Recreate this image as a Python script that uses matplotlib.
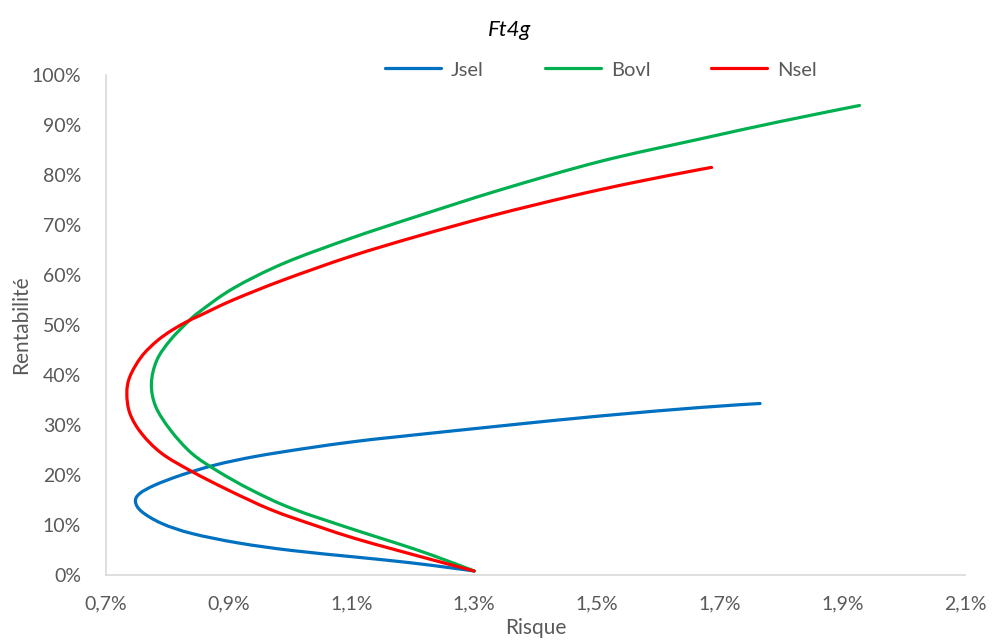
import matplotlib
matplotlib.use("Agg")
import numpy as np
import matplotlib.pyplot as plt
from matplotlib.path import Path
from matplotlib.patches import PathPatch
from matplotlib.lines import Line2D
from matplotlib.ticker import FuncFormatter, FixedLocator

plt.rcParams['font.family'] = ['Lato', 'DejaVu Sans']

# Efficient frontiers: risk (%) vs return (%), ordered from the lowest-return
# portfolio round the minimum-variance point to the highest-return one
jsel_risk = [1.300, 1.233, 1.170, 1.106, 1.003, 0.916, 0.840, 0.791, 0.758, 0.748,
             0.755, 0.780, 0.823, 0.878, 0.943, 1.024, 1.106, 1.179, 1.342, 1.505,
             1.668, 1.766]
jsel_ret = [0.8, 1.9, 2.8, 3.6, 4.9, 6.4, 8.3, 10.3, 12.7, 14.7,
            16.3, 18.0, 20.0, 22.0, 23.7, 25.3, 26.7, 27.7, 29.8, 31.8,
            33.5, 34.3]

bovl_risk = [1.300, 1.233, 1.170, 1.106, 1.003, 0.937, 0.883, 0.840, 0.805, 0.781,
             0.774, 0.783, 0.805, 0.834, 0.853, 0.907, 0.989, 1.098, 1.206, 1.342,
             1.505, 1.668, 1.799, 1.928]
bovl_ret = [0.8, 3.9, 6.5, 9.0, 13.3, 17.0, 20.7, 24.3, 29.0, 33.7,
            38.3, 43.0, 47.0, 50.7, 52.7, 57.3, 62.3, 67.3, 71.7, 77.0,
            82.7, 87.2, 90.7, 93.9]

nsel_risk = [1.300, 1.233, 1.170, 1.106, 1.046, 0.970, 0.899, 0.840, 0.791, 0.758,
             0.739, 0.734, 0.739, 0.758, 0.783, 0.808, 0.834, 0.853, 0.907, 0.989,
             1.098, 1.206, 1.330, 1.456, 1.560, 1.668, 1.687]
nsel_ret = [0.8, 3.0, 5.1, 7.3, 9.7, 13.0, 17.0, 20.7, 24.3, 28.3,
            32.3, 36.3, 39.7, 43.7, 46.8, 49.0, 50.8, 51.9, 55.0, 59.0,
            63.7, 67.7, 71.9, 75.7, 78.5, 81.1, 81.5]

series_names = ["Jsel", "Bovl", "Nsel"]
series_colors = ["#0070C0", "#00B050", "#FF0000"]

x_ticks = [0.7, 0.9, 1.1, 1.3, 1.5, 1.7, 1.9, 2.1]
y_ticks = [0, 10, 20, 30, 40, 50, 60, 70, 80, 90, 100]


def smooth_path(xs, ys):
    """Smoothed line through the points (Catmull-Rom segments as cubic Beziers)."""
    p = np.column_stack([xs, ys]).astype(float)
    ext = np.vstack([p[0], p, p[-1]])
    verts = [p[0]]
    codes = [Path.MOVETO]
    for i in range(1, len(ext) - 2):
        p0, p1, p2, p3 = ext[i - 1], ext[i], ext[i + 1], ext[i + 2]
        verts += [p1 + (p2 - p0) / 6.0, p2 - (p3 - p1) / 6.0, p2]
        codes += [Path.CURVE4] * 3
    return Path(verts, codes)


fig = plt.figure(figsize=(9.94, 6.41), dpi=100)
ax = fig.add_axes([106 / 994, 1 - 575 / 641, (965 - 106) / 994, 500 / 641])

handles = []
for xs, ys, name, col in zip([jsel_risk, bovl_risk, nsel_risk],
                             [jsel_ret, bovl_ret, nsel_ret],
                             series_names, series_colors):
    ax.add_patch(PathPatch(smooth_path(xs, ys), facecolor='none', edgecolor=col,
                           lw=2.3, capstyle='round', joinstyle='round'))
    handles.append(Line2D([], [], color=col, lw=2.3, solid_capstyle='round', label=name))

ax.set_xlim(0.7, 2.1)
ax.set_ylim(0, 100)
ax.xaxis.set_major_locator(FixedLocator(x_ticks))
ax.yaxis.set_major_locator(FixedLocator(y_ticks))
ax.xaxis.set_major_formatter(FuncFormatter(lambda v, p: f"{v:.1f}".replace(".", ",") + "%"))
ax.yaxis.set_major_formatter(FuncFormatter(lambda v, p: f"{v:.0f}%"))

txt_color = "#595959"
ax.tick_params(axis='both', length=0, labelsize=14, colors=txt_color)
ax.tick_params(axis='x', pad=15)
ax.tick_params(axis='y', pad=18)
for s in ['top', 'right']:
    ax.spines[s].set_visible(False)
for s in ['left', 'bottom']:
    ax.spines[s].set_color('#D9D9D9')
    ax.spines[s].set_linewidth(1.2)

ax.set_xlabel("Risque", fontsize=15, color=txt_color, labelpad=4)
ax.set_ylabel("Rentabilité", fontsize=15, color=txt_color, labelpad=0)

fig.text(510 / 994, 1 - 30 / 641, "Ft4g", fontsize=16, style='italic',
         ha='center', va='center', color='black')

leg = ax.legend(handles=handles, loc='center',
                bbox_to_anchor=((601 - 106) / 859, (575 - 70) / 500),
                ncol=3, frameon=False, fontsize=14.5, handlelength=2.8,
                columnspacing=3.0, handletextpad=0.5)
for t in leg.get_texts():
    t.set_color(txt_color)

fig.savefig("out.png", dpi=100)
